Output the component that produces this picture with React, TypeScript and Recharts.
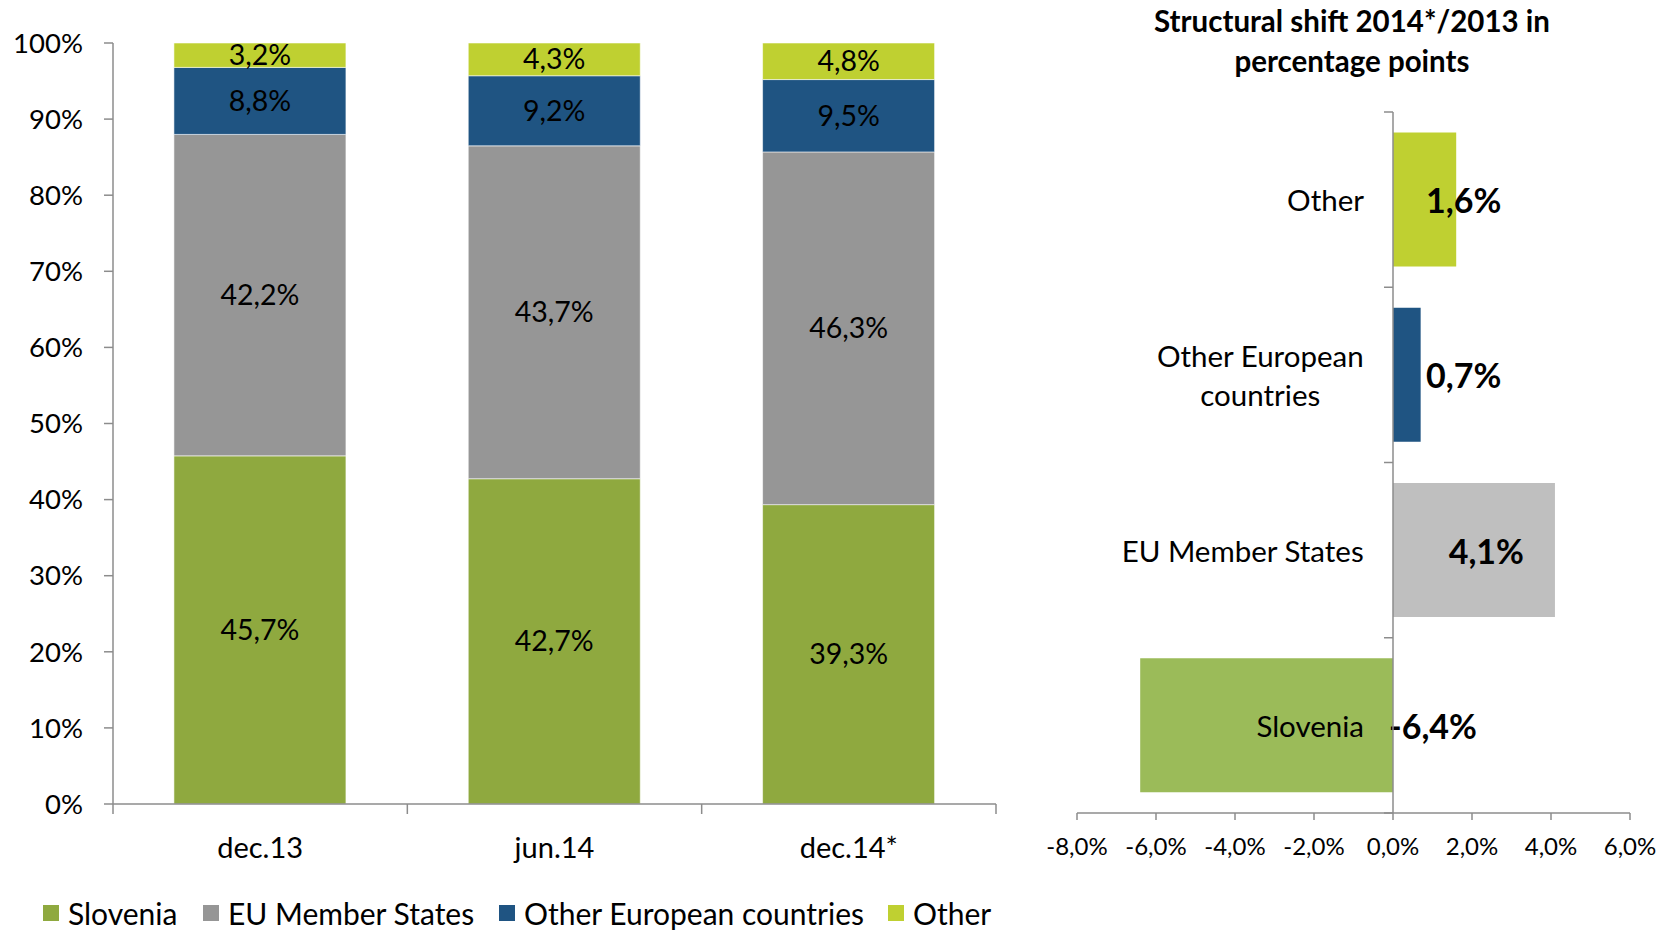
import { Bar, BarChart, LabelList, ReferenceLine, XAxis, YAxis } from 'recharts'

const periods = ['dec.13', 'jun.14', 'dec.14*']
const slovenia = [45.7, 42.7, 39.3]
const euMembers = [42.2, 43.7, 46.3]
const otherEurope = [8.8, 9.2, 9.5]
const otherWorld = [3.2, 4.3, 4.8]
const shareTicks = [0, 0.1, 0.2, 0.3, 0.4, 0.5, 0.6, 0.7, 0.8, 0.9, 1]

const shiftCategories = ['Other', 'Other European countries', 'EU Member States', 'Slovenia']
const shiftValues = [1.6, 0.7, 4.1, -6.4]
const shiftColors = ['#BFD031', '#1F5482', '#BFBFBF', '#9BBB59']
const shiftTicks = [-8, -6, -4, -2, 0, 2, 4, 6]

const AXIS = '#8C8C8C'
const FONT = 'Lato, "Noto Sans", sans-serif'

const stackSeries = [
  { key: 'slovenia', name: 'Slovenia', color: '#8FA93F', values: slovenia },
  { key: 'eu', name: 'EU Member States', color: '#969696', values: euMembers },
  { key: 'otherEurope', name: 'Other European countries', color: '#1F5482', values: otherEurope },
  { key: 'other', name: 'Other', color: '#BFD031', values: otherWorld },
]

const shareData = periods.map((period, i) => {
  const row: Record<string, string | number> = { period }
  stackSeries.forEach((s) => (row[s.key] = s.values[i]))
  return row
})

const shiftData = shiftCategories.map((name, i) => ({ name, value: shiftValues[i] }))

const pct = (v: number) => `${v.toFixed(1).replace('.', ',')}%`

const ctx = typeof document !== 'undefined' ? document.createElement('canvas').getContext('2d') : null
function measure(text: string, font: string, size: number) {
  if (!ctx) return text.length * size * 0.52
  ctx.font = font
  return ctx.measureText(text).width
}

function wrapWords(text: string, maxW: number, font: string, size: number) {
  const words = text.split(' ')
  const lines: string[] = []
  let cur = ''
  words.forEach((w) => {
    const next = cur ? `${cur} ${w}` : w
    if (cur && measure(next, font, size) > maxW) {
      lines.push(cur)
      cur = w
    } else cur = next
  })
  if (cur) lines.push(cur)
  return lines
}

// Excel style: ticks at category boundaries, label under band centre
function PeriodTick(props: any) {
  const { x, y, payload, index, visibleTicksCount } = props
  const half = payload?.offset || 147
  return (
    <g>
      <line x1={x - half} x2={x - half} y1={y} y2={y + 10} stroke={AXIS} strokeWidth={1.5} />
      {index === visibleTicksCount - 1 && (
        <line x1={x + half} x2={x + half} y1={y} y2={y + 10} stroke={AXIS} strokeWidth={1.5} />
      )}
      <text x={x} y={y + 42} textAnchor="middle" dominantBaseline="central" fontSize={29} fill="#000" fontFamily={FONT}>
        {payload.value}
      </text>
    </g>
  )
}

function ShiftTick(props: any) {
  const { x, y, payload } = props
  return (
    <text x={x} y={y + 25} textAnchor="middle" dominantBaseline="central" fontSize={24} fill="#000" fontFamily={FONT}>
      {pct(payload.value)}
    </text>
  )
}

function ShiftBar(props: any) {
  const { x, y, width, height, index, payload } = props
  const v: number = payload.value
  const left = Math.min(x, x + width)
  const right = Math.max(x, x + width)
  const zero = v < 0 ? right : left
  const end = v < 0 ? left : right
  const cy = y + height / 2
  const valFont = `bold 34px ${FONT}`
  const label = pct(v)
  const tw = measure(label, valFont, 34)
  const tx = v < 0 ? zero - 4 : Math.max(zero + 33, end - 31 - tw)
  const catFont = `29.5px ${FONT}`
  const lines = wrapWords(payload.name, 250, catFont, 29.5)
  const blockW = Math.max(...lines.map((l) => measure(l, catFont, 29.5)))
  const lh = 39
  return (
    <g>
      <rect x={left} y={y} width={right - left} height={height} fill={shiftColors[index]} />
      {lines.map((l, i) => (
        <text
          key={i}
          x={zero - 29 - blockW / 2}
          y={cy + (i - (lines.length - 1) / 2) * lh}
          textAnchor="middle"
          dominantBaseline="central"
          fontSize={29.5}
          fill="#000"
          fontFamily={FONT}
        >
          {l}
        </text>
      ))}
      <text x={tx} y={cy} dominantBaseline="central" fontSize={34} fontWeight="bold" fill="#000" fontFamily={FONT}>
        {label}
      </text>
    </g>
  )
}

function ZeroAxis(props: any) {
  const { x1, y1, x2, y2, count } = props
  const step = (y2 - y1) / count
  const marks = Array.from({ length: count + 1 }, (_, i) => y1 + i * step)
  return (
    <g>
      <line x1={x1} y1={y1} x2={x2} y2={y2} stroke={AXIS} strokeWidth={1.5} />
      {marks.map((m, i) => (
        <line key={i} x1={x1 - 9} x2={x1} y1={m} y2={m} stroke={AXIS} strokeWidth={1.5} />
      ))}
    </g>
  )
}

export default function App() {
  return (
    <div style={{ position: 'absolute', left: 0, top: 0, width: 1673, height: 930, background: '#fff', fontFamily: FONT, overflow: 'hidden' }}>
      <div style={{ position: 'absolute', left: 0, top: 0 }}>
        <BarChart
          width={1000}
          height={930}
          data={shareData}
          stackOffset="expand"
          margin={{ top: 43, right: 4, bottom: 84, left: 0 }}
          barCategoryGap="20.7%"
        >
          <XAxis
            dataKey="period"
            axisLine={{ stroke: AXIS, strokeWidth: 1.5 }}
            tickLine={false}
            tickSize={0}
            tickMargin={0}
            tick={<PeriodTick />}
            height={42}
            interval={0}
          />
          <YAxis
            type="number"
            domain={[0, 1]}
            ticks={shareTicks}
            tickFormatter={(v: number) => `${Math.round(v * 100)}%`}
            width={113}
            tickSize={9}
            tickMargin={21}
            axisLine={{ stroke: AXIS, strokeWidth: 1.5 }}
            tickLine={{ stroke: AXIS, strokeWidth: 1.5 }}
            tick={{ fill: '#000', fontSize: 27.5, fontFamily: FONT }}
          />
          {stackSeries.map((s) => (
            <Bar
              key={s.key}
              dataKey={s.key}
              name={s.name}
              stackId="share"
              fill={s.color}
              stroke="#ffffff"
              strokeOpacity={0.55}
              strokeWidth={1}
              isAnimationActive={false}
            >
              <LabelList
                dataKey={s.key}
                position="center"
                formatter={(v: any) => pct(Number(v))}
                fill="#000"
                stroke="none"
                fontSize={28.5}
                fontFamily={FONT}
              />
            </Bar>
          ))}
        </BarChart>
      </div>

      <div style={{ position: 'absolute', left: 43, top: 893, height: 40 }}>
        {stackSeries.map((s, i) => (
          <div
            key={s.key}
            style={{ position: 'absolute', left: [0, 160, 456, 845][i], top: 0, display: 'flex', alignItems: 'center', height: 40, whiteSpace: 'nowrap' }}
          >
            <span style={{ width: 16, height: 16, background: s.color, display: 'inline-block', marginRight: 9 }} />
            <span style={{ fontSize: 30, color: '#000' }}>{s.name}</span>
          </div>
        ))}
      </div>

      <div
        style={{ position: 'absolute', left: 1127, top: 1, width: 450, textAlign: 'center', fontSize: 29.5, fontWeight: 'bold', lineHeight: '40px', color: '#000' }}
      >
        Structural shift 2014*/2013 in
        <br />
        percentage points
      </div>

      <div style={{ position: 'absolute', left: 1040, top: 0 }}>
        <BarChart
          layout="vertical"
          width={633}
          height={930}
          data={shiftData}
          margin={{ top: 112, right: 43, bottom: 77, left: 37 }}
          barCategoryGap="11.7%"
        >
          <XAxis
            type="number"
            domain={[-8, 6]}
            ticks={shiftTicks}
            interval={0}
            height={40}
            tickSize={7}
            tickMargin={0}
            axisLine={{ stroke: AXIS, strokeWidth: 1.5 }}
            tickLine={{ stroke: AXIS, strokeWidth: 1.5 }}
            tick={<ShiftTick />}
          />
          <YAxis type="category" dataKey="name" hide />
          <Bar dataKey="value" isAnimationActive={false} shape={<ShiftBar />} />
          <ReferenceLine x={0} shape={<ZeroAxis count={shiftCategories.length} />} />
        </BarChart>
      </div>
    </div>
  )
}
